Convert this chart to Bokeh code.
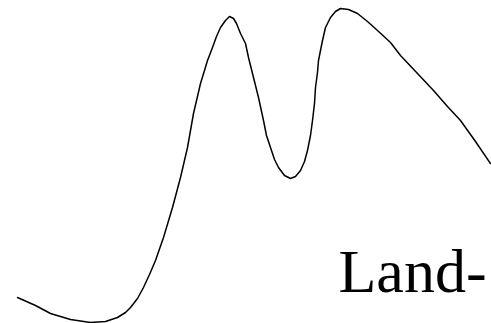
from bokeh.plotting import figure
from bokeh.models import Range1d
from bokeh.core.properties import value
from bokeh.embed import file_html
from bokeh.resources import INLINE

# Curve sample positions (horizontal) and depths below the top edge
curve_x = [17, 35, 50, 70, 90, 105, 117, 125, 130, 137, 143, 149, 155, 163,
           172, 180, 187, 193, 200, 204, 207, 212, 216, 220, 225, 229, 233,
           236, 240, 245, 248, 253, 258, 263, 266, 270, 274, 278, 284, 290,
           295, 300, 304, 307, 310, 312, 314, 315, 317, 318, 320, 322, 325,
           330, 335, 340, 348, 357, 367, 377, 390, 400, 417, 433, 447, 460,
           475, 490]
curve_depth = [297, 305, 313, 319, 322, 321, 317, 312, 307, 298, 287, 274,
               260, 237, 207, 177, 147, 113, 83, 70, 60, 47, 36, 27, 20, 16,
               18, 23, 33, 43, 57, 77, 97, 120, 135, 147, 159, 167, 175, 178,
               176, 170, 161, 150, 135, 120, 103, 87, 72, 60, 50, 40, 27, 17,
               11, 8, 9, 13, 21, 30, 42, 55, 73, 90, 106, 120, 141, 163]
W, H = 491, 323
curve_y = [H - d for d in curve_depth]

label_text = ["Land-"]
label_x = [338]
label_y = [H - 270]

p = figure(width=W, height=H, output_backend="svg", toolbar_location=None,
           x_range=Range1d(0, W), y_range=Range1d(0, H), min_border=0,
           outline_line_color=None, background_fill_color="white",
           border_fill_color="white")
p.axis.visible = False
p.grid.visible = False

p.line(curve_x, curve_y, line_color="black", line_width=1.5,
       line_join="round", line_cap="round")
# Text anchored at the middle of its em box
p.text(x=label_x, y=label_y, text=label_text,
       text_font=value("Liberation Serif"), text_font_size="62px",
       text_color="black", text_align="left", text_baseline="middle")

open("out.html", "w").write(file_html(p, INLINE))
